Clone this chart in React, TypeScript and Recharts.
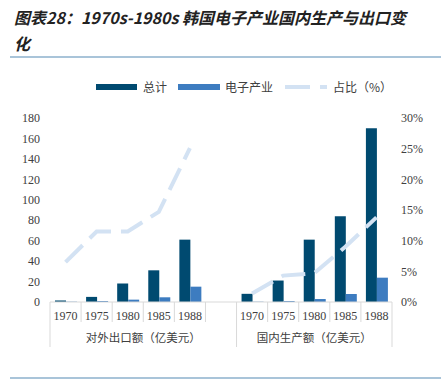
import React from 'react';
import { ComposedChart, Bar, Line, XAxis, YAxis } from 'recharts';

const years = ['1970', '1975', '1980', '1985', '1988'];
const groups = ['对外出口额（亿美元）', '国内生产额（亿美元）'];

// 对外出口额
const exportTotal = [1.5, 5, 18, 31, 61];
const exportElec = [0.3, 1, 2.3, 4.6, 15];
const exportShare = [6.5, 11.5, 11.5, 14.7, 25.1];

// 国内生产额
const domesticTotal = [8, 21, 61, 84, 170];
const domesticElec = [0.3, 1, 2.9, 7.8, 23.8];
const domesticShare = [1.4, 4.3, 4.7, 9.0, 13.8];

const leftTicks = [0, 20, 40, 60, 80, 100, 120, 140, 160, 180];
const rightTicks = [0, 5, 10, 15, 20, 25, 30];

const legendItems = ['总计', '电子产业', '占比（%）'];

const DARK = '#004a70';
const LIGHT = '#3d7cc0';
const LINE = '#d3e2f3';
const GRID = '#d9d9d9';
const TXT = '#404040';

// one blank category between the two groups
const chartData = [
  ...years.map((y, i) => ({ key: 'e' + y, year: y, total: exportTotal[i], elec: exportElec[i], share: exportShare[i] })),
  { key: 'gap', year: '', total: null, elec: null, share: null },
  ...years.map((y, i) => ({ key: 'd' + y, year: y, total: domesticTotal[i], elec: domesticElec[i], share: domesticShare[i] })),
];

const PLOT_L = 50;
const PLOT_R = 392;
const bw = (PLOT_R - PLOT_L) / chartData.length;

const CategoryTick = (props: any) => {
  const { x, y, index } = props;
  const d = chartData[index];
  const left = x - bw / 2;
  const groupStart = index === 0 || index === 6;
  return (
    <g>
      <line x1={left} x2={left} y1={y} y2={groupStart ? y + 45 : y + 20} stroke={GRID} />
      {index === chartData.length - 1 && (
        <line x1={x + bw / 2} x2={x + bw / 2} y1={y} y2={y + 45} stroke={GRID} />
      )}
      <text x={x} y={y + 18} textAnchor="middle" fontSize={12} fill={TXT} fontFamily="Liberation Serif">
        {d.year}
      </text>
      {index === 2 && (
        <text x={x + bw / 2} y={y + 40} textAnchor="middle" fontSize={11.5} fill={TXT} fontFamily="Noto Sans CJK SC">
          {groups[0]}
        </text>
      )}
      {index === 8 && (
        <text x={x} y={y + 40} textAnchor="middle" fontSize={11.5} fill={TXT} fontFamily="Noto Sans CJK SC">
          {groups[1]}
        </text>
      )}
    </g>
  );
};

const Legend = () => (
  <div style={{ position: 'absolute', left: 96, top: 78, display: 'flex', alignItems: 'center', fontSize: 12, color: TXT, fontFamily: 'Noto Sans CJK SC', whiteSpace: 'nowrap' }}>
    <span style={{ width: 41, height: 6, background: DARK, display: 'inline-block' }} />
    <span style={{ marginLeft: 6, width: 35 }}>{legendItems[0]}</span>
    <span style={{ width: 42, height: 6, background: LIGHT, display: 'inline-block' }} />
    <span style={{ marginLeft: 5, width: 60 }}>{legendItems[1]}</span>
    <svg width={42} height={6}>
      <line x1={0} x2={42} y1={3} y2={3} stroke={LINE} strokeWidth={4} strokeDasharray="25 10" />
    </svg>
    <span style={{ marginLeft: 6 }}>{legendItems[2]}</span>
  </div>
);

export default function App() {
  return (
    <div style={{ position: 'absolute', left: 0, top: 0, width: 441, height: 386, background: '#fff', overflow: 'hidden' }}>
      <div style={{ position: 'absolute', left: 14, top: 4, width: 420, fontSize: 16, lineHeight: '26px', fontWeight: 'bold', fontStyle: 'italic', fontFamily: 'Noto Sans CJK SC', color: '#222' }}>
        图表28：1970s-1980s 韩国电子产业国内生产与出口变<br />化
      </div>
      <div style={{ position: 'absolute', left: 10, right: 0, top: 56, height: 1.5, background: '#a9c4d9' }} />
      <Legend />
      <div style={{ position: 'absolute', left: 0, top: 0 }}>
        <ComposedChart width={441} height={386} data={chartData} margin={{ top: 118, right: 0, left: 0, bottom: 0 }} barGap={0} barSize={11}>
          <XAxis dataKey="key" height={84} interval={0} tickLine={false} tickSize={0} tickMargin={0} axisLine={{ stroke: GRID }} tick={<CategoryTick />} />
          <YAxis yAxisId="left" width={50} domain={[0, 180]} ticks={leftTicks} axisLine={false} tickLine={false} tickSize={0} tickMargin={10} tick={{ fontSize: 12, fill: TXT, fontFamily: 'Liberation Serif' }} />
          <YAxis yAxisId="right" orientation="right" width={49} domain={[0, 30]} ticks={rightTicks} axisLine={false} tickLine={false} tickSize={0} tickMargin={9} tickFormatter={(v: number) => v + '%'} tick={{ fontSize: 12, fill: TXT, fontFamily: 'Liberation Serif', textAnchor: 'start' }} />
          <Bar yAxisId="left" dataKey="total" fill={DARK} isAnimationActive={false} />
          <Bar yAxisId="left" dataKey="elec" fill={LIGHT} isAnimationActive={false} />
          <Line yAxisId="right" dataKey="share" stroke={LINE} strokeWidth={4} strokeDasharray="24 10" dot={false} activeDot={false} connectNulls={false} isAnimationActive={false} />
        </ComposedChart>
      </div>
      <div style={{ position: 'absolute', left: 10, right: 0, top: 377, height: 1.5, background: '#a9c4d9' }} />
    </div>
  );
}
